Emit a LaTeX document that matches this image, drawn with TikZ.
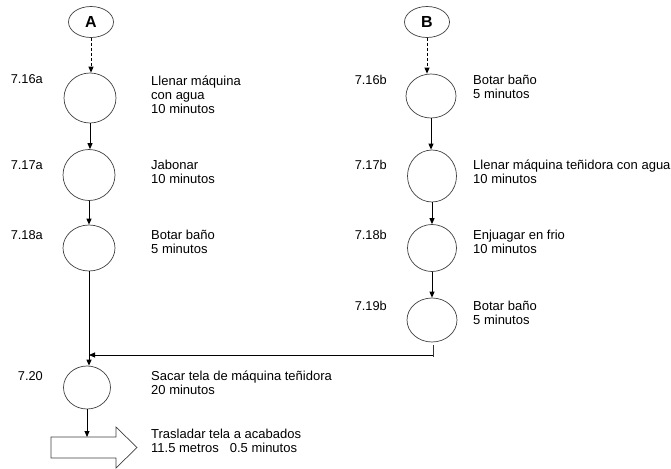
\documentclass[tikz,border=0pt]{standalone}
\usepackage{fontspec}
\setmainfont{Liberation Sans}
\usetikzlibrary{arrows.meta,shapes.geometric}
\begin{document}
\begin{tikzpicture}[x=1pt,y=-1pt,
  proc/.style={ellipse,draw=black!75,line width=0.7pt,inner sep=0pt},
  conn/.style={draw=black,line width=0.9pt,-{Triangle[length=6pt,width=5pt]}},
  dconn/.style={conn,dash pattern=on 3pt off 2pt},
  plain/.style={draw=black!80,line width=0.9pt},
  txt/.style={anchor=north west,inner sep=0pt,align=left,font=\fontsize{13}{14}\selectfont},
  lbl/.style={anchor=base east,inner sep=0pt,font=\fontsize{12.8}{14}\selectfont},
  letter/.style={ellipse,draw=black!75,line width=0.7pt,inner sep=0pt,minimum width=45pt,minimum height=31pt,font=\fontsize{16}{16}\selectfont\bfseries}]
\useasboundingbox (0,0) rectangle (671,468);

% left column
\node[letter] (A) at (91,22) {A};
\node[proc,minimum width=52pt,minimum height=50pt] (c16a) at (90,98) {};
\node[proc,minimum width=52pt,minimum height=51pt] (c17a) at (89,175) {};
\node[proc,minimum width=52pt,minimum height=46pt] (c18a) at (89,248) {};
\node[proc,minimum width=47pt,minimum height=43pt] (c20) at (87,387.5) {};

% right column
\node[letter] (B) at (427,22) {B};
\node[proc,minimum width=50pt,minimum height=44pt] (c16b) at (431,96) {};
\node[proc,minimum width=49pt,minimum height=52pt] (c17b) at (432,176) {};
\node[proc,minimum width=49pt,minimum height=47pt] (c18b) at (432,248) {};
\node[proc,minimum width=50pt,minimum height=44pt] (c19b) at (432,320) {};

% labels
\node[lbl] (l16a) at (43,84) {7.16a};
\node[lbl] (l17a) at (43,169) {7.17a};
\node[lbl] (l18a) at (43,239.5) {7.18a};
\node[lbl] (l20) at (43,380.5) {7.20};
\node[lbl] (l16b) at (387,84.5) {7.16b};
\node[lbl] (l17b) at (387,169.5) {7.17b};
\node[lbl] (l18b) at (387,239.5) {7.18b};
\node[lbl] (l19b) at (387,310.5) {7.19b};

% descriptions
\node[txt] (t16a) at (151,75.2) {\strut Llenar máquina\\con agua\\10 minutos};
\node[txt] (t17a) at (151,159.2) {\strut Jabonar\\10 minutos};
\node[txt] (t18a) at (151,229.7) {\strut Botar baño\\5 minutos};
\node[txt] (t20) at (151,370.7) {\strut Sacar tela de máquina teñidora\\20 minutos};
\node[txt] (ttr) at (151,428.2) {\strut Trasladar tela a acabados\\11.5 metros\hspace{11pt}0.5 minutos};
\node[txt] (t16b) at (473,74.7) {\strut Botar baño\\5 minutos};
\node[txt] (t17b) at (473,159.7) {\strut Llenar máquina teñidora con agua\\10 minutos};
\node[txt] (t18b) at (473,229.7) {\strut Enjuagar en frio\\10 minutos};
\node[txt] (t19b) at (473,300.7) {\strut Botar baño\\5 minutos};

% transport block arrow
\draw[draw=black!75,line width=0.7pt,fill=white]
  (51,437) -- (116,437) -- (116,427) -- (137,447.5) -- (116,468) -- (116,458) -- (51,458) -- cycle;
\coordinate (blk) at (87,437);

% connectors left
\draw[dconn] (A.south) -- (A.south |- c16a.north);
\draw[conn] (c16a.south) -- (c16a.south |- c17a.north);
\draw[conn] (c17a.south) -- (c17a.south |- c18a.north);
\draw[conn] (c18a.south) -- (c18a.south |- c20.north);
\draw[conn] (c20.south) -- (c20.south |- blk);

% connectors right
\draw[dconn] (B.south) -- (B.south |- c16b.north);
\draw[conn] (c16b.south) -- (c16b.south |- c17b.north);
\draw[conn] (c17b.south) -- (c17b.south |- c18b.north);
\draw[conn] (c18b.south) -- (c18b.south |- c19b.north);

% join from 7.19b
\coordinate (tk1) at (433,345);
\coordinate (tk2) at (433,357);
\coordinate (jn) at (433,355);
\draw[plain] (tk1) -- (tk2);
\draw[conn] (jn) -- (c18a.south |- jn);
\end{tikzpicture}
\end{document}
